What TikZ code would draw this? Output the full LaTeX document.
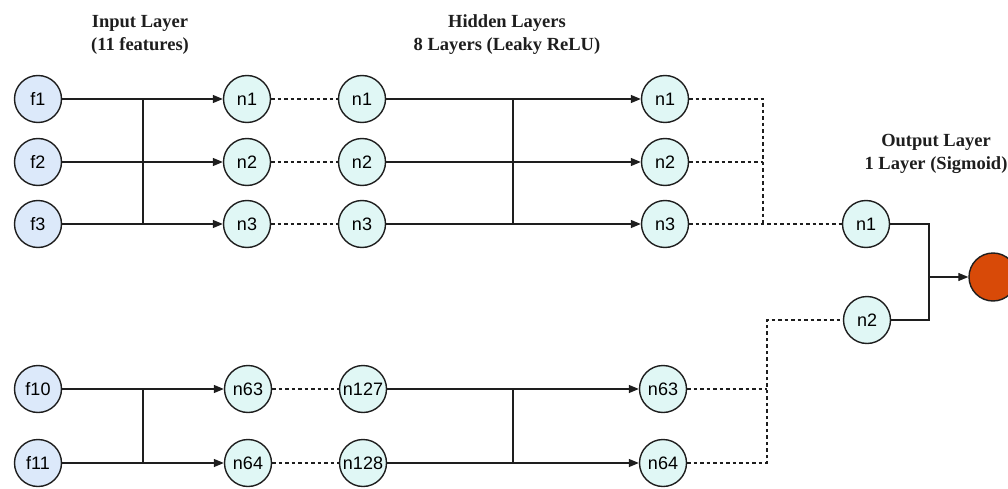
\documentclass[tikz,border=0pt]{standalone}
\usepackage{fontspec}
\setmainfont{Liberation Serif}
\setsansfont{Liberation Sans}
\usetikzlibrary{arrows.meta}
\definecolor{inblue}{HTML}{DCE9FA}
\definecolor{hidcyan}{HTML}{E0F7F5}
\definecolor{outred}{HTML}{D84A08}
\definecolor{ink}{HTML}{1E1E1E}
\tikzset{
  neuron/.style={circle, draw=ink, line width=1.4pt, minimum size=47pt, inner sep=0pt,
    font=\sffamily\fontsize{18}{18}\selectfont},
  innode/.style={neuron, fill=inblue},
  hidnode/.style={neuron, fill=hidcyan},
  outnode/.style={circle, draw=ink, line width=1.4pt, minimum size=48pt, fill=outred},
  wire/.style={draw=ink, line width=1.3pt},
  arrowwire/.style={wire, -{Triangle[length=10pt,width=8pt]}},
  dotted link/.style={draw=ink, line width=1.1pt, dash pattern=on 3.5pt off 3pt},
  title/.style={align=center, font=\bfseries\fontsize{18.5}{23}\selectfont, text=ink}
}
\begin{document}
\begin{tikzpicture}[x=1pt,y=-1pt]
\useasboundingbox (0,0) rectangle (1008,489);
\begin{scope}
\clip (0,0) rectangle (1008,489);
% titles
\node[title] (tin) at (140,35) {Input Layer\\(11 features)};
\node[title] (thid) at (507,35) {Hidden Layers\\8 Layers (Leaky ReLU)};
\node[title] (tout) at (936,154) {Output Layer\\1 Layer (Sigmoid)};
% input nodes
\node[innode] (f1) at (38,99) {f1};
\node[innode] (f2) at (38,162) {f2};
\node[innode] (f3) at (38,224) {f3};
\node[innode] (f10) at (38,389) {f10};
\node[innode] (f11) at (38,463) {f11};
% first hidden
\node[hidnode] (a1) at (247,99) {n1};
\node[hidnode] (a2) at (247,162) {n2};
\node[hidnode] (a3) at (247,224) {n3};
\node[hidnode] (a63) at (248,389) {n63};
\node[hidnode] (a64) at (248,463) {n64};
% second hidden
\node[hidnode] (h1) at (362,99) {n1};
\node[hidnode] (h2) at (362,162) {n2};
\node[hidnode] (h3) at (362,224) {n3};
\node[hidnode] (h127) at (363,389) {n127};
\node[hidnode] (h128) at (363,463) {n128};
% last hidden
\node[hidnode] (r1) at (665,99) {n1};
\node[hidnode] (r2) at (665,162) {n2};
\node[hidnode] (r3) at (665,224) {n3};
\node[hidnode] (r63) at (663,389) {n63};
\node[hidnode] (r64) at (663,463) {n64};
% output layer
\node[hidnode] (o1) at (866,224) {n1};
\node[hidnode] (o2) at (867,320) {n2};
\node[outnode] (out) at (993,277) {};
% junction coordinates
\coordinate (j1) at (143,0);
\coordinate (j2) at (513,0);
\coordinate (dj1) at (763,0);
\coordinate (dj2) at (767,0);
\coordinate (oj) at (929,277);
% input -> first hidden (top)
\draw[wire] (f1.east) -- (f1 -| j1);
\draw[wire] (f2.east) -- (f2 -| j1);
\draw[wire] (f3.east) -- (f3 -| j1);
\draw[wire] (f1 -| j1) -- (f3 -| j1);
\draw[arrowwire] (a1 -| j1) -- (a1.west);
\draw[arrowwire] (a2 -| j1) -- (a2.west);
\draw[arrowwire] (a3 -| j1) -- (a3.west);
% input -> first hidden (bottom)
\draw[wire] (f10.east) -- (f10 -| j1);
\draw[wire] (f11.east) -- (f11 -| j1);
\draw[wire] (f10 -| j1) -- (f11 -| j1);
\draw[arrowwire] (a63 -| j1) -- (a63.west);
\draw[arrowwire] (a64 -| j1) -- (a64.west);
% dotted between hidden layers
\draw[dotted link] (a1) -- (h1);
\draw[dotted link] (a2) -- (h2);
\draw[dotted link] (a3) -- (h3);
\draw[dotted link] (a63) -- (h127);
\draw[dotted link] (a64) -- (h128);
% hidden -> last hidden (top)
\draw[wire] (h1.east) -- (h1 -| j2);
\draw[wire] (h2.east) -- (h2 -| j2);
\draw[wire] (h3.east) -- (h3 -| j2);
\draw[wire] (h1 -| j2) -- (h3 -| j2);
\draw[arrowwire] (r1 -| j2) -- (r1.west);
\draw[arrowwire] (r2 -| j2) -- (r2.west);
\draw[arrowwire] (r3 -| j2) -- (r3.west);
% hidden -> last hidden (bottom)
\draw[wire] (h127.east) -- (h127 -| j2);
\draw[wire] (h128.east) -- (h128 -| j2);
\draw[wire] (h127 -| j2) -- (h128 -| j2);
\draw[arrowwire] (r63 -| j2) -- (r63.west);
\draw[arrowwire] (r64 -| j2) -- (r64.west);
% dotted to output layer
\draw[dotted link] (r1.east) -- (r1 -| dj1) -- (o1 -| dj1);
\draw[dotted link] (r2.east) -- (r2 -| dj1);
\draw[dotted link] (r3.east) -- (o1.west);
\draw[dotted link] (r63.east) -- (r63 -| dj2);
\draw[dotted link] (r64.east) -- (r64 -| dj2) -- (o2 -| dj2) -- (o2.west);
% output
\draw[wire, line width=1.1pt] (o1.east) -- (o1 -| oj) -- (o2 -| oj) -- (o2.east);
\draw[arrowwire, line width=1.1pt] (oj) -- (out.west);
\end{scope}
\end{tikzpicture}
\end{document}
